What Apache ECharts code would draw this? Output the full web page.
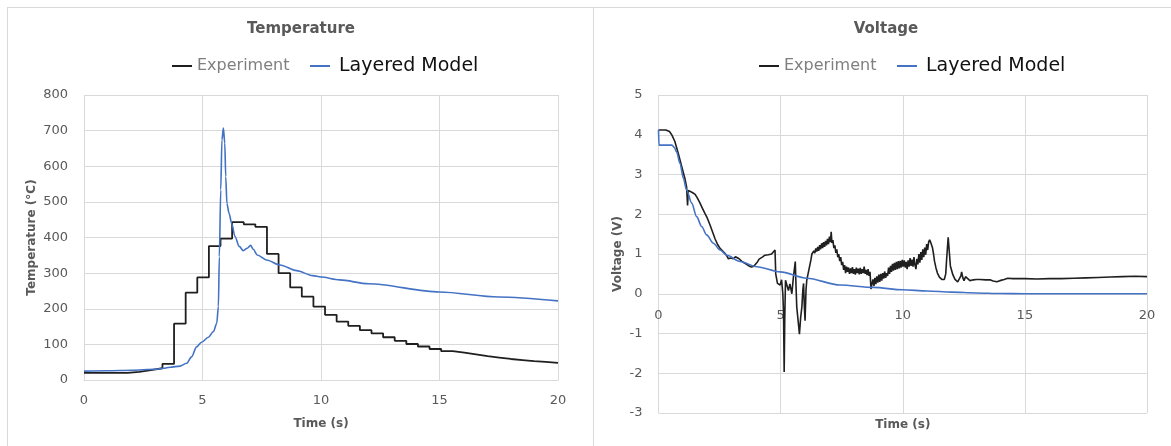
<!DOCTYPE html>
<html>
<head>
<meta charset="utf-8">
<script src="https://cdn.jsdelivr.net/npm/echarts@6/dist/echarts.min.js"></script>
<style>
html,body{margin:0;padding:0;background:#fff;}
#c{width:1171px;height:446px;}
</style>
</head>
<body>
<div id="c"></div>
<script>
// ---------- DATA ----------
const xTicks = [0, 5, 10, 15, 20];
const tempTicks = [0, 100, 200, 300, 400, 500, 600, 700, 800];
const voltTicks = [-3, -2, -1, 0, 1, 2, 3, 4, 5];

// Temperature – Experiment (stepped, value holds until next time)
const tempExpTime = [0, 1.84, 2.33, 2.82, 3.31, 3.80, 4.29, 4.78, 5.27, 5.76, 6.25, 6.74, 7.23, 7.72, 8.21, 8.70, 9.19, 9.68,
  10.17, 10.66, 11.15, 11.64, 12.13, 12.62, 13.11, 13.60, 14.09, 14.58, 15.07, 15.56, 16.05, 16.54, 17.03, 17.52, 18.01, 18.50, 18.99, 19.48, 20];
const tempExpValue = [20, 23, 28, 33, 45, 158, 245, 288, 376, 397, 443, 437, 430, 354, 300, 260, 234, 206,
  183, 164, 152, 140, 131, 120, 110, 101, 94, 87, 81, 77, 72, 67, 63, 59, 56, 53, 51, 48, 48];

// Temperature – Layered Model
const tempModTime = [0, 1, 2, 3, 3.35, 3.63, 4.05, 4.33, 4.54, 4.75, 4.96, 5.25, 5.46, 5.6, 5.67, 5.71, 5.77, 5.82, 5.88, 5.94, 5.98,
  6.03, 6.12, 6.23, 6.37, 6.55, 6.72, 6.89, 7.03, 7.14, 7.31, 7.7, 8.27, 8.97, 9.65, 10, 10.78, 12, 15, 17.5, 20];
const tempModValue = [25, 26, 27.5, 30, 33, 36, 39, 47, 65, 93, 106, 120, 136, 159, 206, 346, 534, 674, 707, 665, 571,
  496, 468, 440, 403, 375, 363, 370, 378, 367, 351, 337, 323, 307, 293, 289, 281, 270, 247, 233, 222];

// Voltage – Experiment
const voltExpTime = [0, 0.3, 0.45, 0.55, 0.67, 0.81, 0.95, 1.08, 1.15, 1.19, 1.22, 1.3, 1.4, 1.5, 1.6, 1.7, 1.8, 1.9, 2.0, 2.11, 2.2, 2.31, 2.42, 2.52, 2.62, 2.72, 2.8, 2.86, 2.95, 3.06, 3.15, 3.23, 3.3, 3.4, 3.5, 3.61, 3.7, 3.81, 3.9, 3.97,
  4.05, 4.12, 4.25, 4.36, 4.5, 4.63, 4.7, 4.77, 4.8, 4.87, 4.92, 4.98, 5.04, 5.09, 5.12, 5.145, 5.17, 5.2, 5.26, 5.32, 5.38, 5.46, 5.52, 5.6, 5.63, 5.66, 5.72, 5.77, 5.82, 5.87, 5.91, 5.94, 5.97,
  6.0, 6.04, 6.07, 6.14,
  6.20, 6.24, 6.28, 6.32, 6.36, 6.40, 6.44, 6.48, 6.52, 6.56, 6.60, 6.64, 6.68, 6.72, 6.76, 6.80, 6.84, 6.88, 6.92, 6.96,
  7.00, 7.04, 7.07, 7.10, 7.14, 7.18, 7.22, 7.26, 7.30, 7.34, 7.38, 7.42, 7.46, 7.50, 7.54, 7.58, 7.62, 7.66, 7.70, 7.74, 7.78, 7.82, 7.86, 7.90, 7.94, 7.98,
  8.02, 8.06, 8.10, 8.14, 8.18, 8.22, 8.26, 8.30, 8.34, 8.38, 8.42, 8.46, 8.50, 8.54, 8.58, 8.62, 8.66, 8.70, 8.74, 8.78, 8.82, 8.86, 8.90, 8.94, 8.98,
  9.02, 9.06, 9.10, 9.14, 9.18, 9.22, 9.26, 9.30, 9.34, 9.38, 9.42, 9.46, 9.50, 9.54, 9.58, 9.62, 9.66, 9.70, 9.74, 9.78, 9.82, 9.86, 9.90, 9.94, 9.98,
  10.02, 10.06, 10.10, 10.14, 10.18, 10.22, 10.26, 10.30, 10.34, 10.38, 10.42, 10.46, 10.50, 10.54, 10.58, 10.62, 10.66, 10.70, 10.74, 10.78, 10.82, 10.86, 10.90, 10.94, 10.98,
  11.02, 11.06, 11.10, 11.14, 11.18, 11.22, 11.26, 11.30, 11.36, 11.42, 11.50, 11.60, 11.70, 11.76, 11.80, 11.86, 11.90, 11.95,
  12.05, 12.14, 12.25, 12.32, 12.38, 12.41, 12.46, 12.51, 12.57, 12.62, 12.75, 12.9, 13.0, 13.16, 13.4, 13.57, 13.7, 13.85, 13.98, 14.15, 14.3, 14.5, 15.0, 15.5, 16.0, 16.5, 17.0, 17.5, 18.0, 18.5, 19.0, 19.5, 20.0];
const voltExpValue = [4.12, 4.12, 4.08, 3.99, 3.83, 3.53, 3.2, 2.9, 2.69, 2.22, 2.6, 2.55, 2.54, 2.5, 2.4, 2.28, 2.15, 2.02, 1.9, 1.73, 1.58, 1.39, 1.24, 1.14, 1.08, 1.02, 0.95, 0.88, 0.9, 0.88, 0.93, 0.95, 0.88, 0.82, 0.78, 0.74, 0.70, 0.67, 0.69, 0.68,
  0.8, 0.87, 0.92, 0.97, 0.98, 1.0, 0.98, 1.10, 0.5, 0.26, 0.3, 0.22, 0.35, 0.0, -0.5, -1.97, -0.6, 0.34, 0.3, 0.08, 0.25, 0.0, 0.4, 0.81, 0.2, -0.33, -0.7, -1.02, -0.6, -0.33, 0.1, 0.26, -0.3,
  -0.68, 0.1, 0.34, 0.55,
  0.60, 0.85, 1.00, 0.97, 1.08, 1.02, 1.14, 1.06, 1.18, 1.08, 1.22, 1.12, 1.27, 1.15, 1.30, 1.18, 1.33, 1.22, 1.38, 1.25,
  1.44, 1.30, 1.56, 1.28, 1.35, 1.15, 1.22, 1.03, 1.12, 0.92, 1.00, 0.82, 0.92, 0.72, 0.80, 0.60, 0.72, 0.52, 0.68, 0.55, 0.66, 0.50, 0.64, 0.52, 0.67, 0.50,
  0.62, 0.48, 0.66, 0.52, 0.63, 0.49, 0.65, 0.50, 0.62, 0.52, 0.68, 0.50, 0.60, 0.47, 0.62, 0.45, 0.55, 0.12, 0.25, 0.36, 0.20, 0.40, 0.24, 0.44, 0.28,
  0.48, 0.30, 0.50, 0.33, 0.52, 0.38, 0.56, 0.40, 0.52, 0.45, 0.66, 0.50, 0.70, 0.55, 0.75, 0.58, 0.78, 0.60, 0.80, 0.62, 0.82, 0.64, 0.83, 0.66, 0.85,
  0.68, 0.84, 0.66, 0.80, 0.62, 0.84, 0.68, 0.90, 0.70, 0.86, 0.68, 0.92, 0.72, 0.62, 0.88, 0.74, 1.00, 0.78, 1.05, 0.85, 1.12, 0.92, 1.16, 0.98, 1.25,
  1.10, 1.30, 1.36, 1.30, 1.34, 1.15, 1.00, 0.82, 0.65, 0.52, 0.42, 0.36, 0.36, 0.50, 0.90, 1.42, 1.10, 0.70,
  0.48, 0.36, 0.3, 0.28, 0.45, 0.55, 0.4, 0.33, 0.43, 0.4, 0.33, 0.35, 0.36, 0.36, 0.35, 0.35, 0.32, 0.3, 0.33, 0.36, 0.39, 0.38, 0.38, 0.37, 0.38, 0.38, 0.39, 0.4, 0.41, 0.42, 0.43, 0.44, 0.43];

// Voltage – Layered Model
const voltModTime = [0, 0.02, 0.55, 0.65, 0.74, 0.88, 1.02, 1.15, 1.36, 1.56, 1.77, 1.97, 2.25, 2.52, 2.8, 3.34, 4.02, 4.98, 6.07, 7.43, 8.8, 10, 11, 12, 13, 14, 15, 20];
const voltModValue = [4.12, 3.74, 3.74, 3.68, 3.57, 3.28, 2.9, 2.61, 2.28, 1.94, 1.69, 1.48, 1.27, 1.10, 0.97, 0.81, 0.68, 0.55, 0.39, 0.22, 0.16, 0.1, 0.07, 0.04, 0.02, 0.005, 0, 0];

// ---------- CHART ----------
const zip = (xs, ys) => xs.map((x, i) => [x, ys[i]]);
const FONT = 'DejaVu Sans';
const GRID_COLOR = '#d9d9d9';
const LABEL_COLOR = '#595959';
const EXP_COLOR = '#1f1f1f';
const MOD_COLOR = '#4472C4';

const grid0 = { left: 84, top: 95, width: 474, height: 285 };
const grid1 = { left: 658.5, top: 95, width: 488.5, height: 318 };
// place the voltage x axis where y = 0 crosses (Excel-style)
const vMin = voltTicks[0], vMax = voltTicks[voltTicks.length - 1];
const voltZeroOffset = -grid1.height * (0 - vMin) / (vMax - vMin);

function xAxisCfg(gridIndex, nameGap, labelMargin, offset) {
  return {
    type: 'value', gridIndex, min: xTicks[0], max: xTicks[xTicks.length - 1], interval: xTicks[1] - xTicks[0],
    offset,
    name: 'Time (s)', nameLocation: 'middle', nameGap,
    nameTextStyle: { fontFamily: FONT, fontSize: 12, fontWeight: 'bold', color: LABEL_COLOR },
    axisLine: { show: true, onZero: false, lineStyle: { color: GRID_COLOR, width: 1 } },
    axisTick: { show: false },
    axisLabel: { fontFamily: FONT, fontSize: 13, color: LABEL_COLOR, margin: labelMargin },
    splitLine: { show: true, lineStyle: { color: GRID_COLOR, width: 1 } }
  };
}
function yAxisCfg(gridIndex, ticks, name, nameGap) {
  return {
    type: 'value', gridIndex, min: ticks[0], max: ticks[ticks.length - 1], interval: ticks[1] - ticks[0],
    name, nameLocation: 'middle', nameGap,
    nameTextStyle: { fontFamily: FONT, fontSize: 12, fontWeight: 'bold', color: LABEL_COLOR },
    axisLine: { show: false },
    axisTick: { show: false },
    axisLabel: { fontFamily: FONT, fontSize: 13, color: LABEL_COLOR, margin: 16 },
    splitLine: { show: true, lineStyle: { color: GRID_COLOR, width: 1 } }
  };
}
function legendCfg(name, left, color, size, pad) {
  return {
    data: [{ name }], left, top: 55, padding: 0, selectedMode: false,
    icon: 'rect', itemWidth: 20, itemHeight: 2,
    textStyle: { fontFamily: FONT, fontSize: size, color, lineHeight: 22, padding: [0, 0, 0, pad] }
  };
}
const titleStyle = { fontFamily: FONT, fontSize: 15, fontWeight: 'bold', color: LABEL_COLOR };

const chart = echarts.init(document.getElementById('c'), null, { renderer: 'canvas' });
chart.setOption({
  animation: false,
  backgroundColor: '#fff',
  title: [
    { text: 'Temperature', left: 301, top: 22, padding: 0, textAlign: 'center', textStyle: titleStyle },
    { text: 'Voltage', left: 886, top: 22, padding: 0, textAlign: 'center', textStyle: titleStyle }
  ],
  legend: [
    legendCfg('Experiment', 172, '#7f7f7f', 16, 0),
    legendCfg('Layered Model', 310, '#111', 19, 4),
    legendCfg('Experiment', 759, '#7f7f7f', 16, 0),
    legendCfg('Layered Model', 897, '#111', 19, 4)
  ],
  grid: [
    Object.assign({ containLabel: false, outerBoundsMode: 'none' }, grid0),
    Object.assign({ containLabel: false, outerBoundsMode: 'none' }, grid1)
  ],
  xAxis: [xAxisCfg(0, 38, 14, 0), xAxisCfg(1, 125, 15, voltZeroOffset)],
  yAxis: [yAxisCfg(0, tempTicks, 'Temperature (°C)', 46), yAxisCfg(1, voltTicks, 'Voltage (V)', 35)],
  graphic: [
    { type: 'line', shape: { x1: 7, y1: 7.5, x2: 1171, y2: 7.5 }, style: { stroke: GRID_COLOR, lineWidth: 1 } },
    { type: 'line', shape: { x1: 7.5, y1: 7, x2: 7.5, y2: 446 }, style: { stroke: GRID_COLOR, lineWidth: 1 } },
    { type: 'line', shape: { x1: 593.5, y1: 7, x2: 593.5, y2: 446 }, style: { stroke: GRID_COLOR, lineWidth: 1 } }
  ],
  series: [
    { name: 'Experiment', type: 'line', xAxisIndex: 0, yAxisIndex: 0, data: zip(tempExpTime, tempExpValue),
      step: 'end', symbol: 'none', lineStyle: { color: EXP_COLOR, width: 1.8 }, itemStyle: { color: EXP_COLOR }, z: 3 },
    { name: 'Layered Model', type: 'line', xAxisIndex: 0, yAxisIndex: 0, data: zip(tempModTime, tempModValue),
      smooth: 0.3, smoothMonotone: 'x', symbol: 'none', lineStyle: { color: MOD_COLOR, width: 1.6 }, itemStyle: { color: MOD_COLOR }, z: 4 },
    { name: 'Experiment', type: 'line', xAxisIndex: 1, yAxisIndex: 1, data: zip(voltExpTime, voltExpValue),
      symbol: 'none', lineStyle: { color: EXP_COLOR, width: 1.6 }, itemStyle: { color: EXP_COLOR }, z: 3 },
    { name: 'Layered Model', type: 'line', xAxisIndex: 1, yAxisIndex: 1, data: zip(voltModTime, voltModValue),
      smooth: 0.3, smoothMonotone: 'x', symbol: 'none', lineStyle: { color: MOD_COLOR, width: 1.6 }, itemStyle: { color: MOD_COLOR }, z: 4 }
  ]
});
</script>
</body>
</html>
